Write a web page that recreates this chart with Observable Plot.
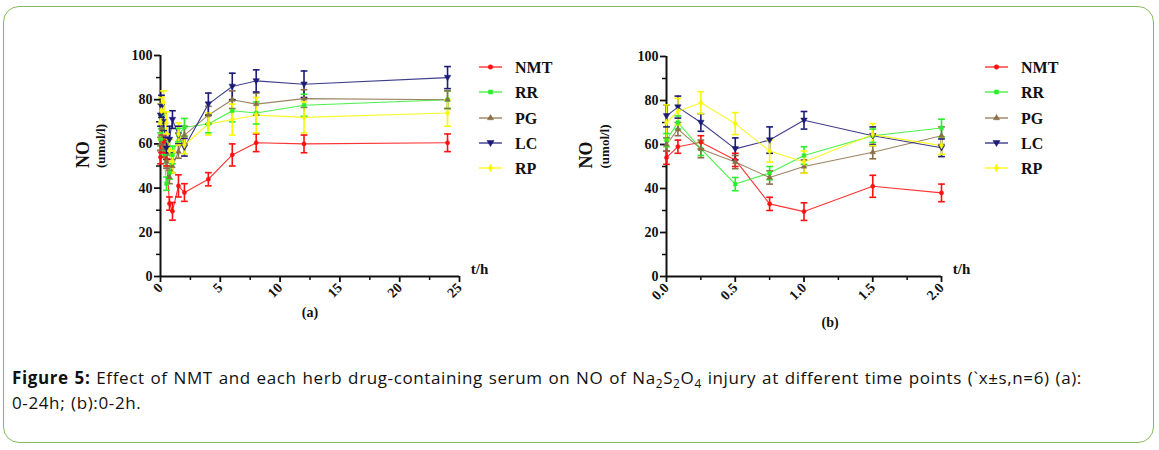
<!DOCTYPE html>
<html><head><meta charset="utf-8">
<script src="https://cdn.jsdelivr.net/npm/d3@7"></script>
<script src="https://cdn.jsdelivr.net/npm/@observablehq/plot@0.6"></script>
<style>
body{margin:0;background:#fff;}
#wrap{position:relative;width:1159px;height:450px;overflow:hidden;background:#fff;}
#frame{position:absolute;left:3px;top:6px;width:1151px;height:437px;border:1.5px solid #87b95f;border-radius:16px;box-sizing:border-box;}
.panel{position:absolute;}
.legend{position:absolute;}
#cap{position:absolute;left:12px;top:365px;font-family:"Open Sans";font-size:17px;letter-spacing:0.62px;word-spacing:0.8px;line-height:25px;color:#111;white-space:nowrap;}
#cap b{font-weight:bold;}
#cap sub{font-size:70%;line-height:0;vertical-align:-0.3em;}
</style></head><body>
<div id="wrap">
<div id="frame"></div>
<div id="pa" class="panel" style="left:40px;top:40px;width:480px;"></div>
<div id="pb" class="panel" style="left:560px;top:40px;width:420px;"></div>
<div id="la" class="legend" style="left:470px;top:55px;"></div>
<div id="lb" class="legend" style="left:976px;top:55px;"></div>
<div id="cap"><b>Figure 5:</b> Effect of NMT and each herb drug-containing serum on NO of Na<sub>2</sub>S<sub>2</sub>O<sub>4</sub> injury at different time points (`x±s,n=6) (a):<br>0-24h; (b):0-2h.</div>
</div>
<script>
// ---- data ----
const times = [0, 0.083, 0.25, 0.5, 0.75, 1, 1.5, 2, 4, 6, 8, 12, 24];
const seriesNames = ["NMT", "RR", "PG", "LC", "RP"];
const NMT = [54, 59, 61, 53, 33, 29.5, 41, 38, 44, 55, 60.5, 60, 60.5];
const NMT_sd = [3, 3, 3, 3, 3, 4, 5, 4, 3, 5, 4, 4, 4];
const RR = [62, 70, 58, 42, 47, 55, 64, 67.5, 69, 75, 74, 77.5, 80];
const RR_sd = [3, 3, 3, 3, 3, 4, 3, 4, 4, 5, 5, 5, 4];
const PG = [60, 67, 58, 52, 45, 50, 56.5, 64, 73, 80, 78, 80.5, 80];
const PG_sd = [3, 3, 4, 3, 3, 3, 3, 4, 4, 4, 5, 4, 4];
const LC = [73, 77, 70, 58, 62, 71, 64, 58.5, 78, 86, 88.5, 87, 90];
const LC_sd = [5, 5, 4, 5, 6, 4, 4, 4, 5, 6, 5, 6, 5];
const RP = [70, 75, 79, 69.5, 57, 52, 64.5, 59.5, 69, 71, 73, 72, 74];
const RP_sd = [8, 6, 5, 5, 5, 5, 5, 4, 5, 7, 8, 7, 6];
const yTicks = [0, 20, 40, 60, 80, 100];
const xTicksA = [0, 5, 10, 15, 20, 25];
const xTicksB = [0, 0.5, 1, 1.5, 2];

const colors = ["#ff1010", "#2af02a", "#8b6f47", "#1c1c78", "#f8f800"];
const vals = {NMT, RR, PG, LC, RP};
const sds = {NMT: NMT_sd, RR: RR_sd, PG: PG_sd, LC: LC_sd, RP: RP_sd};
const rows = [];
seriesNames.forEach(s => times.forEach((t, i) => rows.push({s, t, v: vals[s][i], sd: sds[s][i]})));

const triDown = {draw(ctx, size) {
  const r = Math.sqrt(size / 1.3);
  ctx.moveTo(0, r); ctx.lineTo(r, -r * 0.7); ctx.lineTo(-r, -r * 0.7); ctx.closePath();
}};
const cap = {draw(ctx, size) { const w = Math.sqrt(size); ctx.moveTo(-w, 0); ctx.lineTo(w, 0); }};
const symbols = [d3.symbolCircle, d3.symbolSquare, d3.symbolTriangle, triDown, d3.symbolDiamond];

const serif = "Liberation Serif";

function panel(data, xDomain, xTicks, minorX, fmt, opts) {
  return Plot.plot({
    width: opts.width, height: opts.height,
    marginLeft: opts.ml, marginRight: opts.mr, marginTop: opts.mt, marginBottom: opts.mb,
    style: {fontFamily: serif, fontWeight: "bold", fontSize: "14px", color: "#111", background: "transparent", overflow: "visible"},
    x: {domain: xDomain},
    y: {domain: [0, 100]},
    color: {domain: seriesNames, range: colors},
    symbol: {domain: seriesNames, range: symbols},
    marks: [
      Plot.axisY({ticks: yTicks, tickSize: 6, strokeWidth: 1.8, tickPadding: 2, fontSize: 14, fontWeight: "bold", label: null}),
      Plot.axisY({ticks: [10, 30, 50, 70, 90], tickSize: 4, strokeWidth: 1.5, tickFormat: () => "", label: null}),
      Plot.axisX({ticks: xTicks, tickSize: 6, strokeWidth: 1.8, tickRotate: -45, tickFormat: fmt, tickPadding: 3, fontSize: 14, fontWeight: "bold", label: null}),
      Plot.axisX({ticks: minorX, tickSize: 4, strokeWidth: 1.5, tickFormat: () => "", label: null}),
      Plot.ruleX([xDomain[0]], {y1: 0, y2: 100, strokeWidth: 2, stroke: "#111"}),
      Plot.ruleY([0], {x1: xDomain[0], x2: xDomain[1], strokeWidth: 2, stroke: "#111"}),
      Plot.line(data, {x: "t", y: "v", z: "s", stroke: "s", strokeWidth: 1.1, strokeOpacity: 0.85}),
      Plot.ruleX(data, {x: "t", y1: d => d.v - d.sd, y2: d => d.v + d.sd, stroke: "s", strokeWidth: 1.6}),
      Plot.dot(data, {x: "t", y: d => d.v + d.sd, symbol: cap, r: 1.9, stroke: "s", strokeWidth: 1.6}),
      Plot.dot(data, {x: "t", y: d => d.v - d.sd, symbol: cap, r: 1.9, stroke: "s", strokeWidth: 1.6}),
      Plot.dot(data, {x: "t", y: "v", symbol: "s", fill: "s", stroke: "s", strokeWidth: 0.5, r: 2.1}),
      Plot.text(["t/h"], {x: xDomain[1], y: 0, dx: 20, dy: -7, fontSize: 15, fontWeight: "bold", fill: "#111"}),
      Plot.text([opts.tag], {x: opts.tagX, y: 0, dy: opts.tagDy, fontSize: 14, fontWeight: "bold", fill: "#111"}),
      Plot.text(["NO"], {frameAnchor: "left", dx: opts.noDx, dy: 2, rotate: -90, fontSize: 18, fontWeight: "bold", fill: "#111"}),
      Plot.text(["(umol/l)"], {frameAnchor: "left", dx: opts.uDx, dy: 2, rotate: -90, fontSize: 13, fontWeight: "bold", fill: "#111"})
    ]
  });
}

const pa = panel(rows, [0, 25], xTicksA, [2.5, 7.5, 12.5, 17.5, 22.5], d => String(d),
  {width: 480, height: 290, ml: 120, mr: 61, mt: 15, mb: 54, tag: "(a)", tagX: 12.5, tagDy: 36, noDx: -77, uDx: -60});
document.getElementById("pa").appendChild(pa);

const pb = panel(rows.filter(d => d.t <= 2), [0, 2], xTicksB, [0.25, 0.75, 1.25, 1.75], d => d.toFixed(1),
  {width: 420, height: 300, ml: 106, mr: 39, mt: 16, mb: 64, tag: "(b)", tagX: 1.19, tagDy: 46, noDx: -80, uDx: -62});
document.getElementById("pb").appendChild(pb);

function legend(id, lineX0, lineX1, textX) {
  const svg = d3.select("#" + id).append("svg").attr("width", 120).attr("height", 130);
  const rowY = [12, 37, 63, 88, 113];
  seriesNames.forEach((s, i) => {
    const g = svg.append("g").attr("transform", `translate(0,${rowY[i]})`);
    g.append("line").attr("x1", lineX0).attr("x2", lineX1).attr("stroke", colors[i]).attr("stroke-width", 1.2);
    g.append("path").attr("transform", `translate(${(lineX0 + lineX1) / 2},0)`)
      .attr("d", d3.symbol(symbols[i], 2.3 * 2.3 * Math.PI)()).attr("fill", colors[i]).attr("stroke", colors[i]).attr("stroke-width", 0.5);
    g.append("text").attr("x", textX).attr("y", 0).attr("dy", "0.35em").text(s)
      .attr("font-family", serif).attr("font-weight", "bold").attr("font-size", 16).attr("fill", "#111");
  });
}
legend("la", 9, 32, 45);
legend("lb", 9, 32, 45);
</script>
</body></html>
